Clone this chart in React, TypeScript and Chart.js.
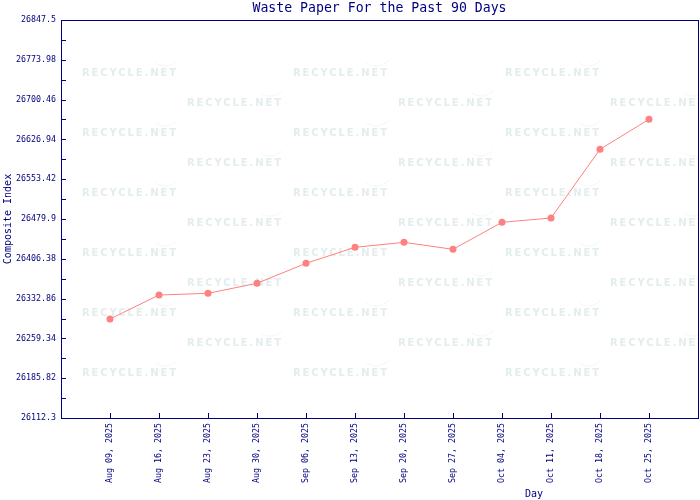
import { useEffect, useRef } from 'react';
import { Chart, registerables } from 'chart.js';

Chart.register(...registerables);

const dateLabels = [
  'Aug 09, 2025', 'Aug 16, 2025', 'Aug 23, 2025', 'Aug 30, 2025',
  'Sep 06, 2025', 'Sep 13, 2025', 'Sep 20, 2025', 'Sep 27, 2025',
  'Oct 04, 2025', 'Oct 11, 2025', 'Oct 18, 2025', 'Oct 25, 2025',
];
const indexValues = [
  26295.2, 26339.5, 26342.6, 26361.1, 26398.0, 26427.6,
  26436.8, 26423.9, 26473.8, 26481.7, 26608.6, 26664.1,
];
const yTickLabels = [
  '26112.3', '26185.82', '26259.34', '26332.86', '26406.38', '26479.9',
  '26553.42', '26626.94', '26700.46', '26773.98', '26847.5',
];
const titleText = 'Waste Paper For the Past 90 Days';
const xTitle = 'Day';
const yTitle = 'Composite Index';
const watermark = 'RECYCLE.NET';

const NAVY = '#000080';
const MONO = "'DejaVu Sans Mono', monospace";
const LINE = '#ff8080';

export default function App() {
  const ref = useRef<HTMLCanvasElement>(null);

  useEffect(() => {
    document.body.style.margin = '0';
    const yVals = yTickLabels.map((s) => parseFloat(s));
    const yMin = yVals[0];
    const yMax = yVals[yVals.length - 1];
    const half = (yVals[1] - yVals[0]) / 2;

    const decor = {
      id: 'decor',
      beforeDatasetsDraw(chart: any) {
        const { ctx, chartArea: a } = chart;
        ctx.save();
        // watermark
        ctx.beginPath();
        ctx.rect(a.left + 1, a.top + 1, a.right - a.left - 1, a.bottom - a.top - 1);
        ctx.clip();
        ctx.font = "bold 10px 'DejaVu Sans', sans-serif";
        const w0 = ctx.measureText(watermark).width;
        const ls = Math.max(0, (96 - w0) / 11);
        (ctx as any).letterSpacing = ls.toFixed(2) + 'px';
        ctx.textBaseline = 'middle';
        ctx.textAlign = 'left';
        for (let r = 0; r < 11; r++) {
          const y = a.top + 53 + r * 30;
          const xs = r % 2 === 0 ? [21, 232, 444] : [126, 337, 549];
          for (const dx of xs) {
            const x = a.left + dx;
            ctx.fillStyle = '#e3eded';
            ctx.fillText(watermark, x, y);
            ctx.strokeStyle = '#e3ecec';
            ctx.lineWidth = 1;
            ctx.setLineDash([1, 1]);
            ctx.beginPath();
            ctx.moveTo(x + 74, y - 10);
            ctx.quadraticCurveTo(x + 84, y - 3, x + 95, y - 12);
            ctx.stroke();
            ctx.setLineDash([]);
          }
        }
        ctx.restore();

        ctx.save();
        (ctx as any).letterSpacing = '0px';
        ctx.strokeStyle = NAVY;
        ctx.lineWidth = 1;
        ctx.strokeRect(a.left + 0.5, a.top + 0.5, a.right - a.left, a.bottom - a.top);
        // inner tick marks
        const ys = chart.scales.y;
        ctx.beginPath();
        for (const t of ys.ticks) {
          const py = Math.round(ys.getPixelForValue(t.value)) + 0.5;
          ctx.moveTo(a.left, py);
          ctx.lineTo(a.left + 5, py);
        }
        const xsc = chart.scales.x;
        for (const t of xsc.ticks) {
          const px = Math.round(xsc.getPixelForValue(t.value)) + 0.5;
          ctx.moveTo(px, a.bottom + 1);
          ctx.lineTo(px, a.bottom - 5);
        }
        ctx.stroke();

        // titles
        ctx.fillStyle = NAVY;
        ctx.textAlign = 'center';
        ctx.textBaseline = 'middle';
        ctx.font = `13.2px ${MONO}`;
        ctx.fillText(titleText, (a.left + a.right) / 2, 8.5);
        ctx.font = `10px ${MONO}`;
        ctx.fillText(xTitle, 534, 494);
        ctx.translate(8, (a.top + a.bottom) / 2);
        ctx.rotate(-Math.PI / 2);
        ctx.fillText(yTitle, 0, 0);
        ctx.restore();
      },
    };

    const chart = new Chart(ref.current as HTMLCanvasElement, {
      type: 'line',
      data: {
        datasets: [
          {
            data: indexValues.map((v, i) => ({ x: i + 1, y: v })),
            borderColor: LINE,
            backgroundColor: LINE,
            borderWidth: 1,
            pointRadius: 3.5,
            pointBorderWidth: 0,
            pointBackgroundColor: LINE,
            tension: 0,
          },
        ],
      },
      options: {
        animation: false,
        responsive: false,
        layout: { autoPadding: false, padding: { top: 20, right: 2, left: 0, bottom: 0 } },
        plugins: {
          legend: { display: false },
          tooltip: { enabled: false },
          title: { display: false },
        },
        scales: {
          x: {
            type: 'linear',
            min: 0,
            max: dateLabels.length + 1,
            grid: { display: false, drawTicks: false },
            border: { display: false },
            afterBuildTicks: (s: any) => {
              s.ticks = dateLabels.map((_, i) => ({ value: i + 1 }));
            },
            afterFit: (s: any) => {
              s.height = 82;
              s.paddingLeft = 0;
              s.paddingRight = 0;
            },
            ticks: {
              autoSkip: false,
              maxRotation: 90,
              minRotation: 90,
              padding: 5,
              color: NAVY,
              font: { family: MONO, size: 8.3 },
              callback: (v: any) => dateLabels[Number(v) - 1] ?? '',
            },
          },
          y: {
            type: 'linear',
            min: yMin,
            max: yMax,
            grid: { display: false, drawTicks: false },
            border: { display: false },
            afterBuildTicks: (s: any) => {
              const arr = [];
              for (let i = 0; i <= (yTickLabels.length - 1) * 2; i++) {
                arr.push({ value: yMin + i * half });
              }
              s.ticks = arr;
            },
            afterFit: (s: any) => {
              s.width = 61;
              s.paddingTop = 0;
              s.paddingBottom = 0;
            },
            ticks: {
              autoSkip: false,
              padding: 5,
              color: NAVY,
              font: { family: MONO, size: 8.3 },
              callback: (_v: any, i: number) => (i % 2 === 0 ? yTickLabels[i / 2] : ''),
            },
          },
        },
      },
      plugins: [decor],
    });
    return () => chart.destroy();
  }, []);

  return (
    <div style={{ width: 700, height: 500 }}>
      <canvas ref={ref} width={700} height={500} style={{ display: 'block' }} />
    </div>
  );
}
